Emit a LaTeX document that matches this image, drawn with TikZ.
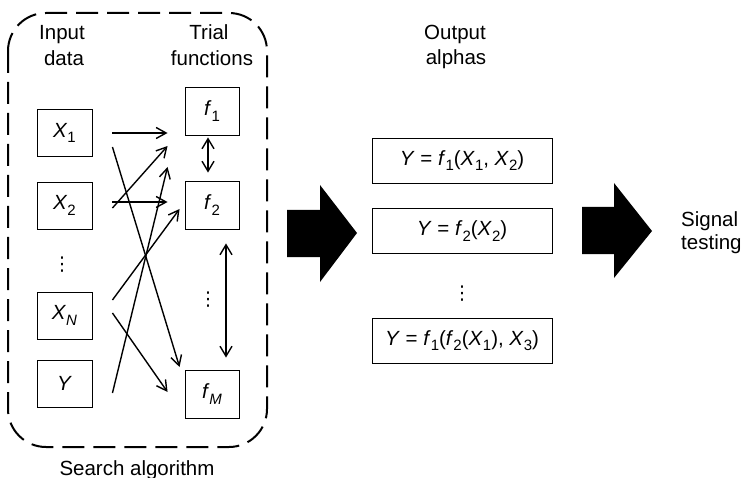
\documentclass[tikz,border=0pt]{standalone}
\usepackage{fontspec}
\setmainfont{Liberation Sans}
\newfontfamily\djv{DejaVu Sans}
\usetikzlibrary{arrows.meta,calc}
\newcommand\lsub[1]{\raisebox{-0.5ex}{\fontsize{15}{15}\selectfont #1}}
\newcommand\iv[1]{\textit{#1}}
\newcommand\vdts{{\djv\fontsize{19}{19}\selectfont ⋮}}
\begin{document}
\begin{tikzpicture}[x=1pt,y=-1pt, font=\fontsize{20.5}{25}\selectfont,
  box/.style={draw, line width=0.9pt, minimum width=55pt, minimum height=47pt, inner sep=0pt},
  obox/.style={draw, line width=0.9pt, minimum width=180pt, minimum height=45pt, inner sep=0pt},
  link/.style={line width=1.4pt, -{Straight Barb[length=10pt,width=11pt]}},
  dlink/.style={line width=1.4pt, {Straight Barb[length=10pt,width=12pt]}-{Straight Barb[length=10pt,width=12pt]}},
  lbl/.style={anchor=base, inner sep=0pt},
  dts/.style={inner sep=0pt},
  bigarrow/.style={fill=black, draw=none}]
\useasboundingbox (0,0) rectangle (746,478);

% search algorithm frame
\draw[line width=2pt, dash pattern=on 22pt off 9pt, rounded corners=38pt] (8,13) rectangle (267,447);

% headings
\node[lbl] (hin1) at (62,40) {Input};
\node[lbl] (hin2) at (64,66) {data};
\node[lbl] (htr1) at (209,40) {Trial};
\node[lbl] (htr2) at (212,66) {functions};
\node[lbl] (hout1) at (455,40) {Output};
\node[lbl] (hout2) at (456,65) {alphas};
\node[lbl] (search) at (137,475) {Search algorithm};
\node[anchor=base west, inner sep=0pt] (sig1) at (681,227) {Signal};
\node[anchor=base west, inner sep=0pt] (sig2) at (681,250) {testing};

% input boxes
\node[box] (x1) at (64.5,133) {\iv{X}\lsub{1}};
\node[box] (x2) at (64.5,205.5) {\iv{X}\lsub{2}};
\node[dts] (xd) at (62,265) {\vdts};
\node[box] (xn) at (64.5,315.5) {\iv{X}\lsub{\iv{N}}};
\node[box] (yy) at (64.5,383.5) {\iv{Y}};

% trial function boxes
\node[box, minimum width=54pt, minimum height=48pt] (f1) at (212,111) {\iv{f}\lsub{1}};
\node[box, minimum width=54pt, minimum height=48pt] (f2) at (212,205) {\iv{f}\lsub{2}};
\node[dts] (fd) at (208,300) {\vdts};
\node[box, minimum width=54pt, minimum height=48pt] (fm) at (212,394) {\iv{f}\lsub{\iv{M}}};

% connectors
\draw[link] ($(x1.east)+(20,0)$) -- ($(f1.west)+(-17,22)$);
\draw[link] ($(x1.east)+(20,14)$) -- ($(fm.west)+(-5,-27)$);
\draw[link] ($(x2.east)+(20,-3.5)$) -- ($(f2.west)+(-17,-3)$);
\draw[link] ($(x2.east)+(20,2.5)$) -- ($(f1.west)+(-17,35)$);
\draw[link] ($(xn.east)+(20,-15.5)$) -- ($(f2.west)+(-5,4)$);
\draw[link] ($(xn.east)+(20,-2.5)$) -- ($(fm.west)+(-17,-2)$);
\draw[link] ($(yy.east)+(20,9.5)$) -- ($(f2.west)+(-17,-38)$);

\draw[dlink] ($(f1.south)+(-4,2)$) -- ($(f2.north)+(-4,-8)$);
\draw[dlink] ($(f2.south)+(14,14)$) -- ($(fm.north)+(14,-12)$);

% big arrows
\fill[bigarrow] (287,210) -- (320,210) -- (320,185) -- (357,233) -- (320,282) -- (320,257) -- (287,257) -- cycle;
\fill[bigarrow] (582,207) -- (614,207) -- (614,183) -- (652,231) -- (614,278) -- (614,254) -- (582,254) -- cycle;

% output boxes
\node[obox] (o1) at (462,160.5) {\iv{Y} = \iv{f}\lsub{1}(\iv{X}\lsub{1}, \iv{X}\lsub{2})};
\node[obox] (o2) at (462,231) {\iv{Y} = \iv{f}\lsub{2}(\iv{X}\lsub{2})};
\node[dts] (od) at (462,294) {\vdts};
\node[obox] (o3) at (462,340.5) {\iv{Y} = \iv{f}\lsub{1}(\iv{f}\lsub{2}(\iv{X}\lsub{1}), \iv{X}\lsub{3})};
\end{tikzpicture}
\end{document}
